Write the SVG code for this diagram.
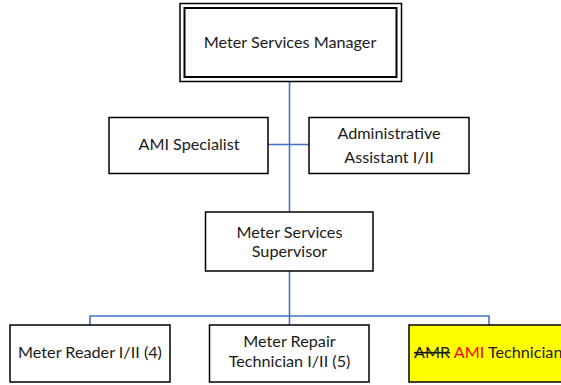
<svg xmlns="http://www.w3.org/2000/svg" width="561" height="385" viewBox="0 0 561 385">
  <style>
    .box { fill: #ffffff; stroke: #000000; stroke-width: 1.5; }
    .hl { fill: #ffff00; stroke: #000000; stroke-width: 1.5; }
    .lbl { font-family: Lato, "Open Sans", "Liberation Sans", sans-serif; font-size: 16.2px; fill: #1a1a1a; text-anchor: middle; }
    .conn { fill: none; stroke: #4472c4; stroke-width: 1.6; }
  </style>
  <rect width="561" height="385" fill="#ffffff"/>

  <g id="connectors">
    <line class="conn" x1="289.5" y1="81" x2="289.5" y2="212"/>
    <line class="conn" x1="268" y1="144.5" x2="309" y2="144.5"/>
    <line class="conn" x1="289.5" y1="271" x2="289.5" y2="325"/>
    <polyline class="conn" points="90,325 90,316 489,316 489,325"/>
  </g>

  <g id="manager">
    <rect x="180" y="3.5" width="221.5" height="78" fill="#ffffff" stroke="#000000" stroke-width="1.5"/>
    <rect x="184.5" y="8" width="212" height="69" fill="none" stroke="#000000" stroke-width="2"/>
    <text class="lbl" x="290" y="48">Meter Services Manager</text>
  </g>

  <g id="ami-specialist">
    <rect class="box" x="109" y="117.5" width="159" height="56"/>
    <text class="lbl" x="189" y="150">AMI Specialist</text>
  </g>

  <g id="admin-assistant">
    <rect class="box" x="309" y="117.5" width="160" height="56"/>
    <text class="lbl" x="389" y="139">Administrative</text>
    <text class="lbl" x="389" y="163">Assistant I/II</text>
  </g>

  <g id="supervisor">
    <rect class="box" x="205.5" y="212" width="167.5" height="59"/>
    <text class="lbl" x="289.5" y="238">Meter Services</text>
    <text class="lbl" x="289.5" y="257">Supervisor</text>
  </g>

  <g id="meter-reader">
    <rect class="box" x="10" y="325" width="160" height="57"/>
    <text class="lbl" x="90" y="358">Meter Reader I/II (4)</text>
  </g>

  <g id="repair-technician">
    <rect class="box" x="209.5" y="325" width="159.5" height="57"/>
    <text class="lbl" x="289.5" y="347">Meter Repair</text>
    <text class="lbl" x="289.5" y="367">Technician I/II (5)</text>
  </g>

  <g id="ami-technician">
    <rect class="hl" x="409" y="325" width="160" height="57"/>
    <text class="lbl" x="414" y="358" style="text-anchor:start"><tspan text-decoration="line-through">AMR</tspan> <tspan fill="#ff0000">AMI</tspan> Technician</text>
  </g>
</svg>
